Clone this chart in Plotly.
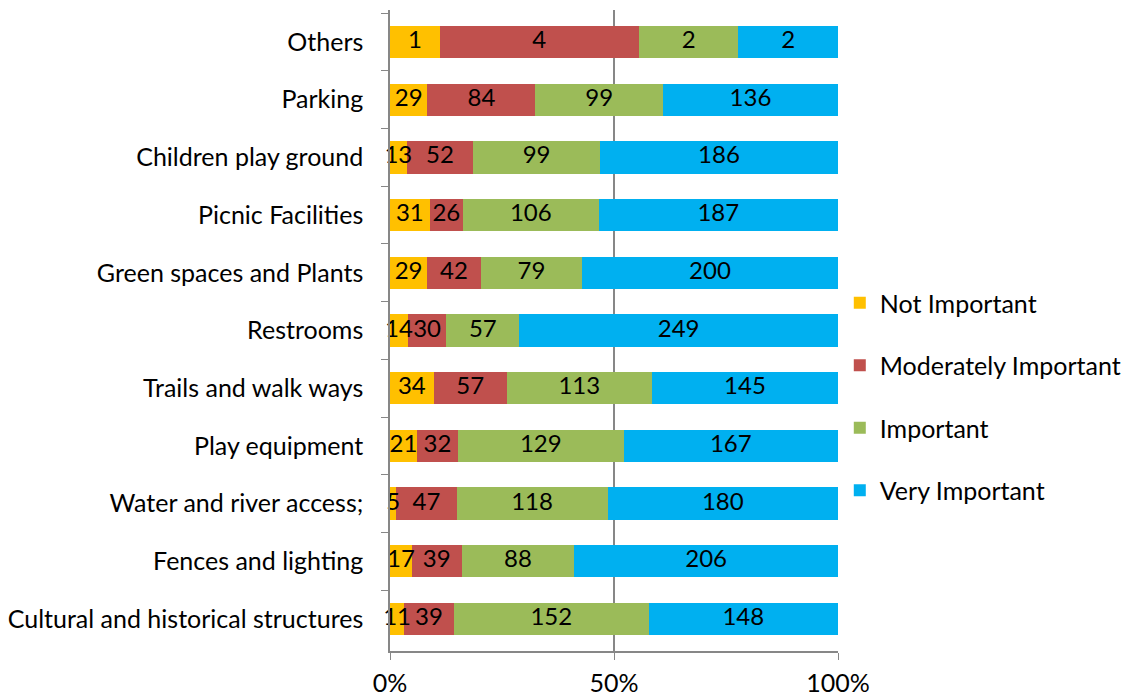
import plotly.graph_objects as go

categories = [
    "Others",
    "Parking",
    "Children play ground",
    "Picnic Facilities",
    "Green spaces and Plants",
    "Restrooms",
    "Trails and walk ways",
    "Play equipment",
    "Water and river access;",
    "Fences and lighting",
    "Cultural and historical structures",
]

not_important = [1, 29, 13, 31, 29, 14, 34, 21, 5, 17, 11]
moderately_important = [4, 84, 52, 26, 42, 30, 57, 32, 47, 39, 39]
important = [2, 99, 99, 106, 79, 57, 113, 129, 118, 88, 152]
very_important = [2, 136, 186, 187, 200, 249, 145, 167, 180, 206, 148]

series = [
    ("Not Important", not_important, "#FFC000"),
    ("Moderately Important", moderately_important, "#C0504D"),
    ("Important", important, "#9BBB59"),
    ("Very Important", very_important, "#00B0F0"),
]

FONT = "Lato"
LABEL_SIZE = 25
VALUE_SIZE = 24

fig = go.Figure()
for name, vals, color in series:
    fig.add_trace(go.Bar(
        y=categories,
        x=vals,
        name=name,
        orientation="h",
        marker=dict(color=color, line=dict(width=0)),
        legendgroup=name,
        hoverinfo="x+y+name",
    ))

# Count labels sit in a text layer above all bars so narrow segments
# can spill over their neighbours instead of being covered by them.
totals = [sum(vals) for vals in zip(*(s[1] for s in series))]
running = [0.0] * len(categories)
for name, vals, color in series:
    mids = []
    for i, v in enumerate(vals):
        share = 100.0 * v / totals[i]
        mids.append(running[i] + share / 2)
        running[i] += share
    fig.add_trace(go.Scatter(
        x=mids,
        y=categories,
        mode="text",
        text=[str(v) for v in vals],
        textposition="middle center",
        textfont=dict(family=FONT, size=VALUE_SIZE, color="black"),
        showlegend=False,
        hoverinfo="skip",
        cliponaxis=False,
    ))

fig.update_layout(
    width=1134,
    height=697,
    barmode="stack",
    barnorm="percent",
    bargap=0.44,
    plot_bgcolor="white",
    paper_bgcolor="white",
    margin=dict(l=390, r=296, t=10, b=46, autoexpand=False),
    font=dict(family=FONT, size=LABEL_SIZE, color="black"),
    legend=dict(
        x=1.004,
        xanchor="left",
        y=0.397,
        yanchor="middle",
        traceorder="grouped",
        tracegroupgap=27,
        font=dict(family=FONT, size=LABEL_SIZE, color="black"),
        itemwidth=30,
    ),
    xaxis=dict(
        range=[0, 100],
        tickvals=[0, 50, 100],
        ticktext=["0%", "50%", "100%"],
        showgrid=True,
        gridcolor="#878787",
        gridwidth=1.5,
        showline=True,
        linecolor="#878787",
        linewidth=1.5,
        ticks="outside",
        ticklen=7,
        tickcolor="#878787",
        zeroline=False,
        automargin=False,
        ticklabelstandoff=2,
        tickfont=dict(family=FONT, size=LABEL_SIZE),
    ),
    yaxis=dict(
        autorange="reversed",
        showline=True,
        linecolor="#878787",
        linewidth=1.5,
        ticks="outside",
        ticklen=7,
        tickcolor="#878787",
        tickson="boundaries",
        showgrid=False,
        automargin=False,
        ticklabelstandoff=20,
        tickfont=dict(family=FONT, size=LABEL_SIZE),
    ),
)

fig.write_html("out.html")
